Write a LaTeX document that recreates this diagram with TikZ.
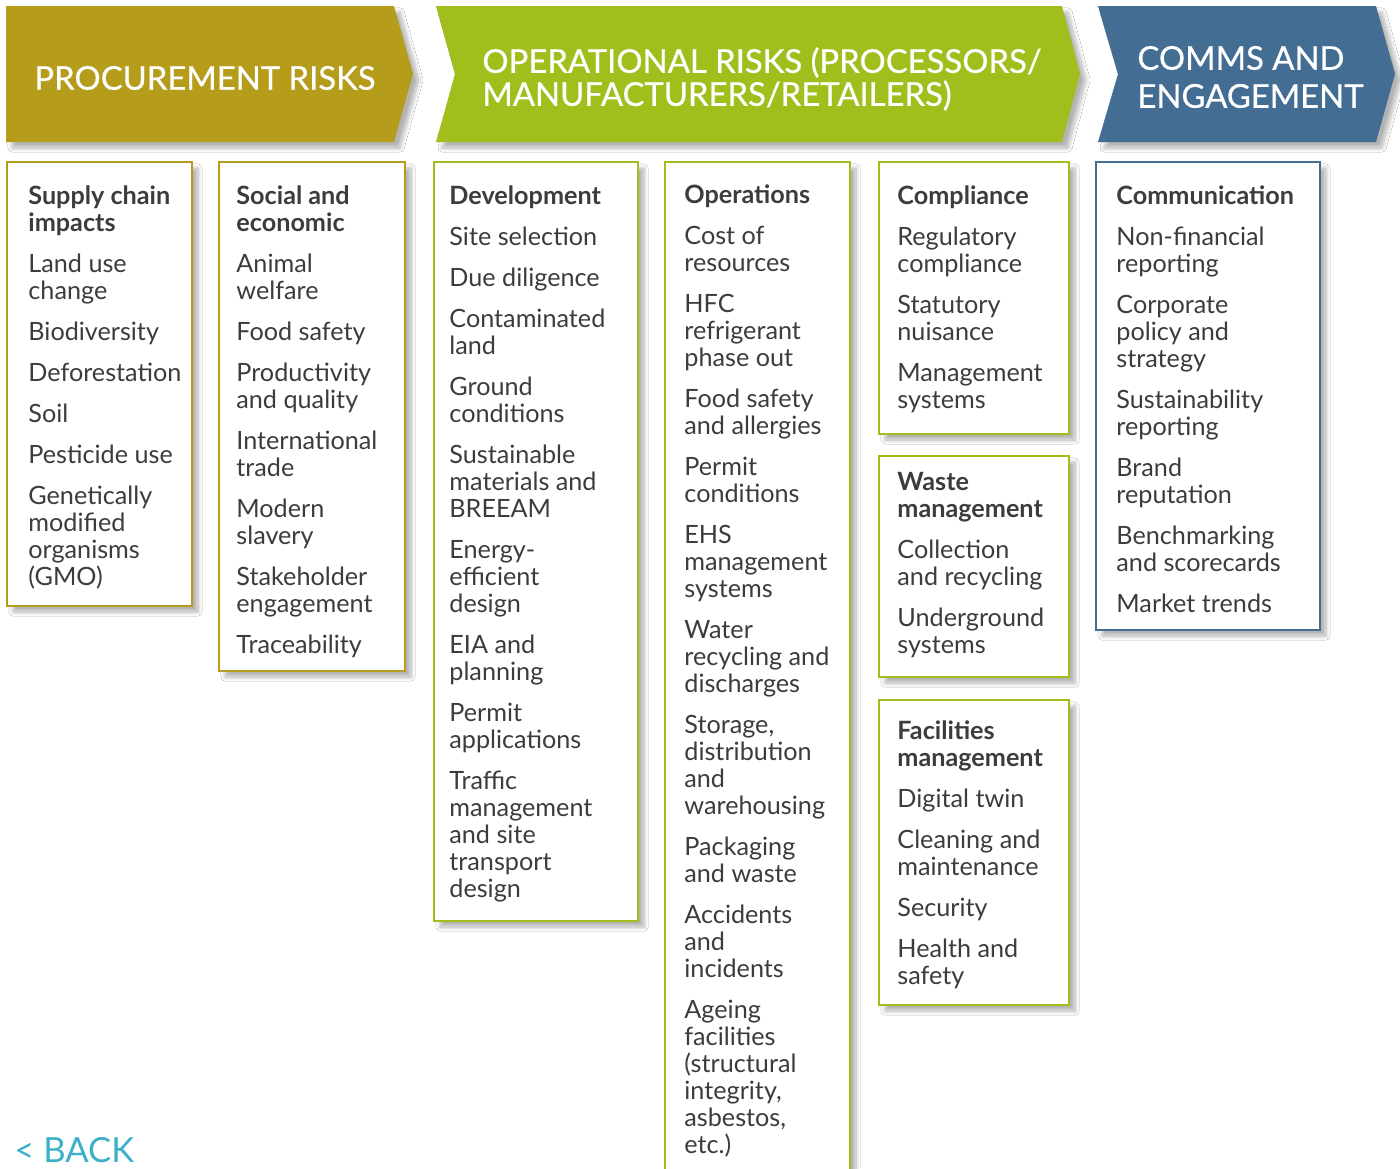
\documentclass[tikz,border=0pt]{standalone}
\usepackage{fontspec}
\setmainfont{Lato}
\newfontfamily\bannerfont[FakeBold=0.6]{Lato}
\usetikzlibrary{shadows.blur}
\definecolor{procgold}{RGB}{181,156,26}
\definecolor{opgreen}{RGB}{160,191,28}
\definecolor{commblue}{RGB}{67,109,147}
\definecolor{txtgray}{RGB}{60,60,60}
\definecolor{backcyan}{RGB}{59,176,201}
\tikzstyle{softshadow} = [blur shadow={shadow xshift=3pt,shadow yshift=-3pt,shadow blur steps=10,shadow opacity=30}]
\tikzstyle{riskbox} = [fill=white,line width=1.4pt,softshadow]
\tikzstyle{risktext} = [anchor=north west,align=left,inner sep=0pt,text=txtgray,font=\fontsize{12.6pt}{13.5pt}\selectfont]
\tikzstyle{bannertext} = [anchor=west,align=left,inner sep=0pt,text=white,font=\bannerfont\fontsize{16.4pt}{16.5pt}\selectfont]
\newcommand{\nextrisk}{\\[7pt]}

\begin{document}
\begin{tikzpicture}[x=0.5pt,y=-0.5pt]
    \clip (0,0) rectangle (1400,1168);
    \fill[white] (0,0) rectangle (1400,1168);

    % banners
    \fill[procgold,softshadow] (6,6) -- (394,6) -- (413,74) -- (394,142) -- (6,142) -- cycle;
    \fill[opgreen,softshadow] (436,6) -- (1062,6) -- (1080,74) -- (1062,142) -- (436,142) -- (455,74) -- cycle;
    \fill[commblue,softshadow] (1098,6) -- (1376,6) -- (1395,74) -- (1376,142) -- (1098,142) -- (1118,74) -- cycle;
    \node[bannertext] (proc) at (34,78) {PROCUREMENT RISKS};
    \node[bannertext] (oper) at (482,79) {OPERATIONAL RISKS (PROCESSORS/\\MANUFACTURERS/RETAILERS)};
    \node[bannertext,font=\bannerfont\fontsize{16.4pt}{19pt}\selectfont] (comms) at (1137,77) {COMMS AND\\ENGAGEMENT};

    % boxes
    \path[riskbox,draw=procgold] (7,162) rectangle (192,606);
    \path[riskbox,draw=procgold] (219,162) rectangle (405,671);
    \path[riskbox,draw=opgreen] (434,162) rectangle (638,921);
    \path[riskbox,draw=opgreen] (665,162) rectangle (850,1190);
    \path[riskbox,draw=opgreen] (879,162) rectangle (1069,434);
    \path[riskbox,draw=opgreen] (879,456) rectangle (1069,677);
    \path[riskbox,draw=opgreen] (879,700) rectangle (1069,1005);
    \path[riskbox,draw=commblue] (1096,162) rectangle (1320,630);

    % box texts
    \node[risktext] (supply) at (28,185) {\textbf{Supply chain}\\\textbf{impacts}\nextrisk
      Land use\\change\nextrisk Biodiversity\nextrisk Deforestation\nextrisk Soil\nextrisk
      Pesticide use\nextrisk Genetically\\modified\\organisms\\(GMO)};
    \node[risktext] (social) at (236,185) {\textbf{Social and}\\\textbf{economic}\nextrisk
      Animal\\welfare\nextrisk Food safety\nextrisk Productivity\\and quality\nextrisk
      International\\trade\nextrisk Modern\\slavery\nextrisk Stakeholder\\engagement\nextrisk
      Traceability};
    \node[risktext] (devel) at (449,185) {\textbf{Development}\nextrisk
      Site selection\nextrisk Due diligence\nextrisk Contaminated\\land\nextrisk
      Ground\\conditions\nextrisk Sustainable\\materials and\\BREEAM\nextrisk
      Energy-\\efficient\\design\nextrisk EIA and\\planning\nextrisk Permit\\applications\nextrisk
      Traffic\\management\\and site\\transport\\design};
    \node[risktext] (ops) at (684,184) {\textbf{Operations}\nextrisk
      Cost of\\resources\nextrisk HFC\\refrigerant\\phase out\nextrisk Food safety\\and allergies\nextrisk
      Permit\\conditions\nextrisk EHS\\management\\systems\nextrisk Water\\recycling and\\discharges\nextrisk
      Storage,\\distribution\\and\\warehousing\nextrisk Packaging\\and waste\nextrisk
      Accidents\\and\\incidents\nextrisk Ageing\\facilities\\(structural\\integrity,\\asbestos,\\etc.)};
    \node[risktext] (compl) at (897,185) {\textbf{Compliance}\nextrisk
      Regulatory\\compliance\nextrisk Statutory\\nuisance\nextrisk Management\\systems};
    \node[risktext] (waste) at (897,472) {\textbf{Waste}\\\textbf{management}\nextrisk
      Collection\\and recycling\nextrisk Underground\\systems};
    \node[risktext] (facil) at (897,720) {\textbf{Facilities}\\\textbf{management}\nextrisk
      Digital twin\nextrisk Cleaning and\\maintenance\nextrisk Security\nextrisk Health and\\safety};
    \node[risktext] (comm) at (1116,185) {\textbf{Communication}\nextrisk
      Non-financial\\reporting\nextrisk Corporate\\policy and\\strategy\nextrisk
      Sustainability\\reporting\nextrisk Brand\\reputation\nextrisk Benchmarking\\and scorecards\nextrisk
      Market trends};

    \node[anchor=west,inner sep=0pt,text=backcyan,font=\fontsize{17.3pt}{18pt}\selectfont] (back) at (14,1150) {< BACK};
\end{tikzpicture}
\end{document}
